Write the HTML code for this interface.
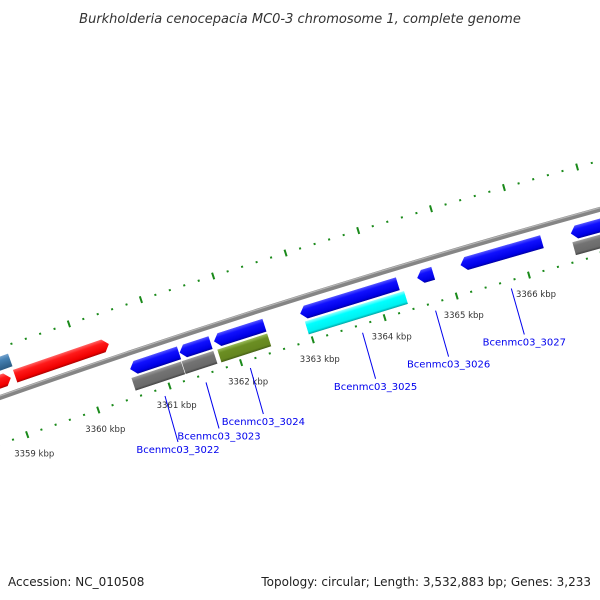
<!DOCTYPE html>
<html><head><meta charset="utf-8"><style>
html,body{margin:0;background:#fff;width:600px;height:600px;overflow:hidden}
svg{display:block;font-family:"DejaVu Sans","Liberation Sans",sans-serif}
</style></head><body>
<svg id="c" width="600" height="600" viewBox="0 0 600 600">
<defs>
<clipPath id="frame"><rect x="0" y="0" width="600" height="600"/></clipPath>
<linearGradient id="gblue" x1="0" y1="0" x2="0" y2="1"><stop offset="0" stop-color="#5a5aff"/><stop offset="0.3" stop-color="#1010ff"/><stop offset="0.8" stop-color="#0000e6"/><stop offset="1" stop-color="#00009a"/></linearGradient>
<linearGradient id="gred" x1="0" y1="0" x2="0" y2="1"><stop offset="0" stop-color="#ff6a6a"/><stop offset="0.3" stop-color="#ff1a1a"/><stop offset="0.8" stop-color="#f00000"/><stop offset="1" stop-color="#a00000"/></linearGradient>
<linearGradient id="ggray" x1="0" y1="0" x2="0" y2="1"><stop offset="0" stop-color="#a0a0a0"/><stop offset="0.3" stop-color="#737373"/><stop offset="0.8" stop-color="#6a6a6a"/><stop offset="1" stop-color="#3c3c3c"/></linearGradient>
<linearGradient id="golive" x1="0" y1="0" x2="0" y2="1"><stop offset="0" stop-color="#9fc060"/><stop offset="0.3" stop-color="#6b8e23"/><stop offset="0.8" stop-color="#65861f"/><stop offset="1" stop-color="#3e5812"/></linearGradient>
<linearGradient id="gcyan" x1="0" y1="0" x2="0" y2="1"><stop offset="0" stop-color="#a0ffff"/><stop offset="0.3" stop-color="#00ffff"/><stop offset="0.8" stop-color="#00f0f0"/><stop offset="1" stop-color="#009a9a"/></linearGradient>
<linearGradient id="gsteel" x1="0" y1="0" x2="0" y2="1"><stop offset="0" stop-color="#7aa6d0"/><stop offset="0.3" stop-color="#4682b4"/><stop offset="1" stop-color="#2a5a82"/></linearGradient>
</defs>
<text x="300" y="23" text-anchor="middle" font-size="13" font-style="italic" fill="#333">Burkholderia cenocepacia MC0-3 chromosome 1, complete genome</text>
<text x="8" y="586" font-size="12" fill="#222">Accession: NC_010508</text>
<text x="591" y="586" text-anchor="end" font-size="12" fill="#222">Topology: circular; Length: 3,532,883 bp; Genes: 3,233</text>
<g id="plot" clip-path="url(#frame)"></g>
</svg>
<script>
// data
const geneStarts = [3358.3, 3358.5, 3359.10, 3360.57, 3361.26, 3361.74, 3362.94, 3364.56, 3365.16, 3366.68, 3360.55, 3361.25, 3361.75, 3362.97, 3366.67];
const geneEnds   = [3359.12, 3359.05, 3360.42, 3361.26, 3361.70, 3362.45, 3364.30, 3364.79, 3366.29, 3367.6, 3361.25, 3361.70, 3362.45, 3364.35, 3367.6];
const geneStrand = [0, 1, 1, -1, -1, -1, -1, -1, -1, -1, 0, 0, 0, 0, 0];
const geneLane   = ['p2','p1','p1','m1','m1','m1','m1','m1','m1','m1','m2','m2','m2','m2','m2'];
const geneColor  = ['steel','red','red','blue','blue','blue','blue','blue','blue','blue','gray','gray','olive','cyan','gray'];
const labelGenes = [10, 11, 5, 13, 7, 8];
const labelNames = ['Bcenmc03_3022','Bcenmc03_3023','Bcenmc03_3024','Bcenmc03_3025','Bcenmc03_3026','Bcenmc03_3027'];
const tickMajor = [3358, 3359, 3360, 3361, 3362, 3363, 3364, 3365, 3366];
const tickLabels = ['3358 kbp','3359 kbp','3360 kbp','3361 kbp','3362 kbp','3363 kbp','3364 kbp','3365 kbp','3366 kbp'];

const NS='http://www.w3.org/2000/svg';
const CX=2991, CY=8886, R=9000, K=75.6, REF=3363, TH0=-17.4;
const laneR={p1:15,p2:32,m1:-15.5,m2:-31};
const plot=document.getElementById('plot');
function theta(p){return TH0+(p-REF)*K/R*180/Math.PI;}
function place(p,r){return `translate(${CX},${CY}) rotate(${theta(p)}) translate(0,${-(R+r)})`;}
function pt(p,r){const t=theta(p)*Math.PI/180;return [CX+(R+r)*Math.sin(t), CY-(R+r)*Math.cos(t)];}
function mk(tag,attrs,parent){const e=document.createElementNS(NS,tag);for(const k in attrs)e.setAttribute(k,attrs[k]);(parent||plot).appendChild(e);return e;}

// backbone
const bb=mk('circle',{cx:CX,cy:CY,r:R,fill:'none',stroke:'#858585','stroke-width':5});


mk('circle',{cx:CX,cy:CY,r:R+1.5,fill:'none',stroke:'#b5b5b5','stroke-width':1.2});

// ticks
for(let i=0;i<=50;i++){
  const p=3358+i*0.2;
  const major=(i%5===0);
  [47,-44].forEach(r=>{
    const g=mk('g',{transform:place(p,r)});
    
    
    if(major) mk('rect',{x:-1,y:-3.5,width:2,height:7,fill:'#1a8a1a'},g);
    else mk('rect',{x:-1,y:-1,width:2,height:2,fill:'#1a8a1a'},g);
  });
}
tickMajor.forEach((p,i)=>{
  const [x,y]=pt(p,-44);
  const t=mk('text',{x:x-13,y:y+22,'font-size':8.5,fill:'#333'});
  
  
  t.textContent=tickLabels[i];
});

// genes
const grad={blue:'gblue',red:'gred',gray:'ggray',olive:'golive',cyan:'gcyan',steel:'gsteel'};
geneStarts.forEach((s,i)=>{
  const e=geneEnds[i], mid=(s+e)/2, w=(e-s)*K, h=14, a=6;
  const g=mk('g',{transform:place(mid,laneR[geneLane[i]])});
  
  
  let d, x0=-w/2, x1=w/2, y0=-h/2, y1=h/2;
  if(geneStrand[i]===1) d=`M${x0},${y0}L${x1-a},${y0}L${x1},0L${x1-a},${y1}L${x0},${y1}Z`;
  else if(geneStrand[i]===-1) d=`M${x1},${y0}L${x0+a},${y0}L${x0},0L${x0+a},${y1}L${x1},${y1}Z`;
  else d=`M${x0},${y0}L${x1},${y0}L${x1},${y1}L${x0},${y1}Z`;
  mk('path',{d:d,fill:`url(#${grad[geneColor[i]]})`,stroke:'#fff','stroke-width':0.6},g);
});

// gene labels
labelGenes.forEach((gi,i)=>{
  const mid=(geneStarts[gi]+geneEnds[gi])/2;
  const [x,y]=pt(mid,-52);
  const ln=mk('line',{x1:x,y1:y,x2:x+13,y2:y+46,stroke:'#0000ee','stroke-width':1});
  
  
  const t=mk('text',{x:x+13,y:y+57,'text-anchor':'middle','font-size':10,fill:'#0000ee'});
  
  
  t.textContent=labelNames[i];
});
</script>
</body></html>
